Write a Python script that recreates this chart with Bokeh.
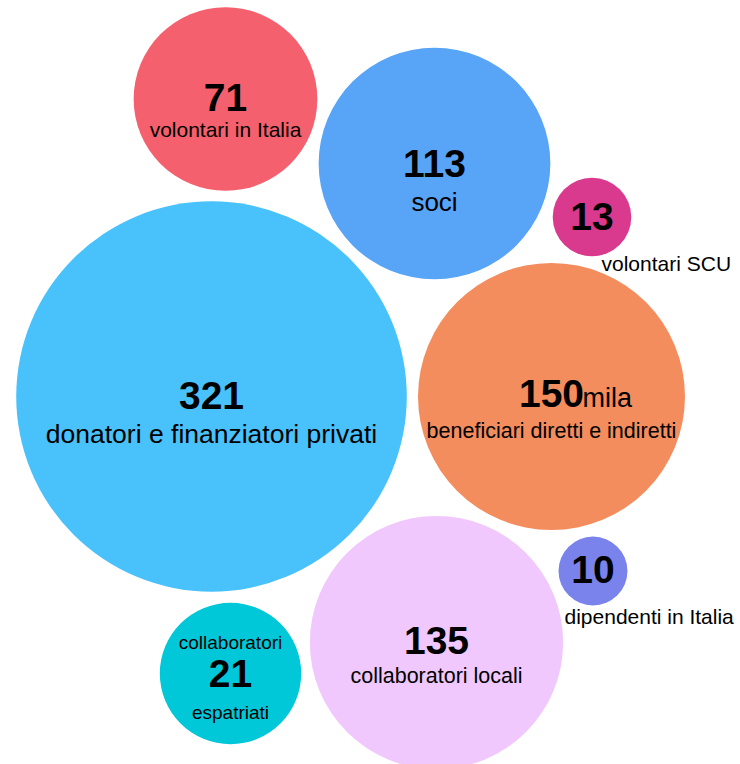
from bokeh.plotting import figure
from bokeh.models import Range1d, ColumnDataSource
from bokeh.core.properties import value
from bokeh.embed import file_html
from bokeh.resources import INLINE

# ---- data ----
values = [321, 113, 71, 13, 150, 10, 135, 21]
numbers = ["321", "113", "71", "13", "150", "10", "135", "21"]
labels = ["donatori e finanziatori privati", "soci", "volontari in Italia",
          "volontari SCU", "beneficiari diretti e indiretti", "dipendenti in Italia",
          "collaboratori locali", "espatriati"]
colors = ["#49C2FB", "#58A4F6", "#F5606E", "#DA3A8E", "#F38D5E", "#7A82EC",
          "#F0C8FD", "#00C8D9"]

# ---- layout (bubble packing positions, in chart units) ----
cx = [211, 434, 225, 591.5, 551, 592.5, 436, 230]
cy = [396, 163, 98.5, 216.5, 396, 570.5, 642, 673]
K = 10.9
radii = [K * v ** 0.5 for v in values]
radii[7] = 70.7  # the small "espatriati" bubble is drawn larger in the original

FONT = "Liberation Sans"
INK = "#000000"

W, H = 740, 764
p = figure(width=W, height=H, output_backend="svg", toolbar_location=None,
           x_range=Range1d(0, W), y_range=Range1d(H, 0),
           x_axis_type=None, y_axis_type=None, min_border=0)
p.outline_line_color = None
p.background_fill_color = "white"
p.border_fill_color = "white"

src = ColumnDataSource(dict(x=cx, y=cy, r=radii, c=colors))
p.circle(x="x", y="y", radius="r", fill_color="c", line_color=None, source=src)


def put(x, baseline, txt, size, bold=False, align="center"):
    # compensate for the renderer's baseline placement (~0.35 em)
    y = baseline - 0.35 * size
    p.text(x=[x], y=[y], text=[txt], text_font=value(FONT),
           text_font_style="bold" if bold else "normal",
           text_font_size=f"{size}px", text_align=align,
           text_baseline="alphabetic", text_color=INK)


# numbers
NUM = 39
num_dy = [13, 14, 12.5, 13.5, 11, 12.2, 11.3, 13.7]
for i in range(len(values)):
    put(cx[i], cy[i] + num_dy[i], numbers[i], NUM, bold=True)

# "mila" suffix next to 150
put(cx[4] + 31, cy[4] + num_dy[4], "mila", 27, align="left")

# inside labels
lab_dy = {0: 47, 1: 47.4, 2: 38, 4: 42, 6: 41.3}
lab_size = {0: 26.5, 1: 26, 2: 21, 4: 21.5, 6: 21.5}
for i in lab_dy:
    put(cx[i], cy[i] + lab_dy[i], labels[i], lab_size[i])

# outside labels (small bubbles)
put(cx[3] + 9.5, cy[3] + 53.5, labels[3], 21, align="left")
put(cx[5] - 28.5, cy[5] + 52.8, labels[5], 21, align="left")

# espatriati bubble: two-line label around the number
put(cx[7], cy[7] - 24.7, "collaboratori", 19)
put(cx[7], cy[7] + 45.3, labels[7], 19)

open("out.html", "w").write(file_html(p, INLINE))
